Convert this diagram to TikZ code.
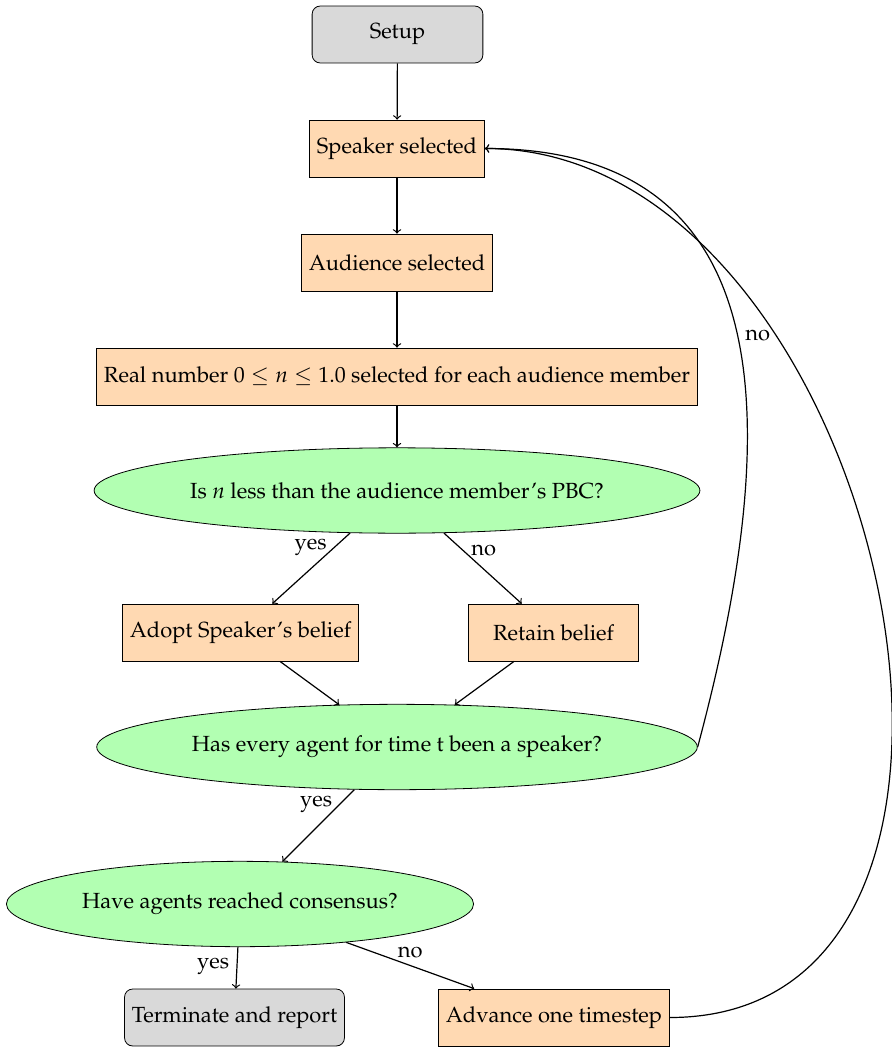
\documentclass[tikz,border=0pt]{standalone}
\usepackage[T1]{fontenc}
\usepackage{mathpazo}
\usetikzlibrary{shapes.geometric}

\begin{document}
\fontsize{10.95}{13.6}\selectfont
\begin{tikzpicture}[x=0.5pt, y=-0.5pt,
	startstop/.style = {draw, rectangle, rounded corners, minimum width=3cm, minimum height=1cm, fill=gray!30},
	process/.style = {draw, rectangle, minimum width=3cm, minimum height=1cm, fill=orange!30},
	decision/.style = {draw, ellipse, minimum height=1.5cm, fill=green!30},
	arrow/.style = {semithick, ->}]
	\useasboundingbox (0, 0) rectangle (892, 1047);

	\node [startstop] (setup) at (397.5, 34.5) {Setup};
	\node [process] (speaker) at (397, 148.5) {Speaker selected};
	\node [process] (audience) at (397, 262.5) {Audience selected};
	\node [process] (realnum) at (397, 376.5) {Real number $0 \leq n \leq 1.0$ selected for each audience member};
	\node [decision] (pbc) at (397, 490.5) {Is $n$ less than the audience member's PBC?};
	\node [process] (adopt) at (240.5, 632.5) {Adopt Speaker's belief};
	\node [process] (retain) at (553.5, 632.5) {Retain belief};
	\node [decision] (every) at (397, 747) {Has every agent for time t been a speaker?};
	\node [decision] (consensus) at (240, 904) {Have agents reached consensus?};
	\node [startstop] (terminate) at (234.5, 1017.5) {Terminate and report};
	\node [process] (advance) at (554, 1017.5) {Advance one timestep};

	\draw [arrow] (setup) -- (speaker);
	\draw [arrow] (speaker) -- (audience);
	\draw [arrow] (audience) -- (realnum);
	\draw [arrow] (realnum) -- (pbc);

	\draw [arrow] (pbc) -- node [pos=0.2, left] {yes} (adopt);
	\draw [arrow] (pbc) -- node [pos=0.25, right] {no} (retain);

	\draw [arrow] (adopt) -- (every);
	\draw [arrow] (retain) -- (every);

	\draw [arrow] (every.east) to [out=75, in=0, looseness=1.25] node [right] {no} (speaker.east);
	\draw [arrow] (every) -- node [pos=0.2, left] {yes} (consensus);

	\draw [arrow] (consensus) -- node [pos=0.45, left] {yes} (terminate);
	\draw [arrow] (consensus) -- node [pos=0.5, above] {no} (advance);

	\draw [arrow] (advance.east) to [out=0, in=0, looseness=1.15] (speaker.east);
\end{tikzpicture}
\end{document}
